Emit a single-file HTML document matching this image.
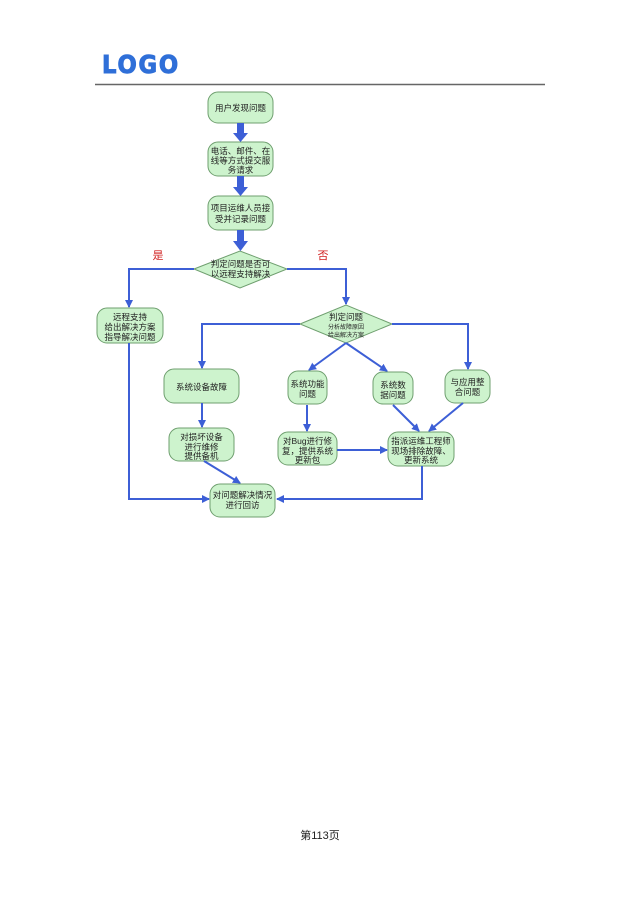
<!DOCTYPE html>
<html><head><meta charset="utf-8"><style>
body{margin:0;background:#fff;}
svg{display:block;}
text{font-family:"Liberation Sans","Noto Sans CJK SC",sans-serif;fill:#222;}
</style></head><body>
<svg width="640" height="906" viewBox="0 0 640 906" xmlns="http://www.w3.org/2000/svg">
<defs>
<marker id="a" markerWidth="8" markerHeight="8" refX="7" refY="4" orient="auto" markerUnits="userSpaceOnUse"><path d="M0,0 L8,4 L0,8 Z" fill="#3d5fd6"/></marker>
</defs>
<text x="102" y="73" style="font-family:'DejaVu Sans',sans-serif;font-weight:bold;font-size:25px;fill:#2f6fd8;stroke:#2f6fd8;stroke-width:1;letter-spacing:2px" textLength="78" lengthAdjust="spacingAndGlyphs">LOGO</text>
<line x1="95" y1="84.5" x2="545" y2="84.5" stroke="#666" stroke-width="1.5"/>

<g fill="#cdf3cd" stroke="#6f9f6f" stroke-width="1">
<rect x="208" y="92" width="65" height="31" rx="10"/>
<rect x="208" y="142" width="65" height="34" rx="10"/>
<rect x="208" y="196" width="65" height="34" rx="10"/>
<polygon points="194,269 240,251 287,269 240,288"/>
<rect x="97" y="308" width="66" height="35" rx="10"/>
<polygon points="300,324 346,305 392,324 346,343"/>
<rect x="164" y="369" width="75" height="34" rx="10"/>
<rect x="288" y="371" width="39" height="33" rx="10"/>
<rect x="373" y="372" width="40" height="32" rx="10"/>
<rect x="445" y="370" width="45" height="33" rx="10"/>
<rect x="169" y="428" width="65" height="33" rx="10"/>
<rect x="278" y="432" width="59" height="33" rx="10"/>
<rect x="388" y="432" width="66" height="34" rx="10"/>
<rect x="210" y="484" width="65" height="33" rx="10"/>
</g>

<g fill="#3d5fd6">
<rect x="237" y="123" width="7" height="11"/><polygon points="233,133 248,133 240.5,142"/>
<rect x="237" y="176" width="7" height="12"/><polygon points="233,187 248,187 240.5,196"/>
<rect x="237" y="230" width="7" height="12"/><polygon points="233,241 248,241 240.5,251"/>
</g>

<g stroke="#3d5fd6" stroke-width="2" fill="none" marker-end="url(#a)">
<polyline points="194,269 129,269 129,307"/>
<polyline points="287,269 346,269 346,304"/>
<polyline points="300,324 202,324 202,368"/>
<polyline points="392,324 468,324 468,369"/>
<line x1="346" y1="343" x2="309" y2="370"/>
<line x1="346" y1="343" x2="387" y2="371"/>
<line x1="202" y1="403" x2="202" y2="427"/>
<line x1="307" y1="405" x2="307" y2="431"/>
<line x1="393" y1="405" x2="419" y2="431"/>
<line x1="463" y1="403" x2="429" y2="431"/>
<line x1="337" y1="450" x2="387" y2="450"/>
<polyline points="129,343 129,499 209,499"/>
<line x1="204" y1="461" x2="240" y2="483"/>
<polyline points="422,466 422,499 277,499"/>
</g>

<text x="158" y="259" font-size="11" style="fill:#d02020" text-anchor="middle">是</text>
<text x="323" y="259" font-size="11" style="fill:#d02020" text-anchor="middle">否</text>

<g font-size="8.5" text-anchor="middle">
<text x="240.5" y="111">用户发现问题</text>
<text x="240.5" y="154">电话、邮件、在</text>
<text x="240.5" y="163.5">线等方式提交服</text>
<text x="240.5" y="173">务请求</text>
<text x="240.5" y="211">项目运维人员接</text>
<text x="240.5" y="222">受并记录问题</text>
<text x="240.5" y="267">判定问题是否可</text>
<text x="240.5" y="277">以远程支持解决</text>
<text x="130" y="320">远程支持</text>
<text x="130" y="330">给出解决方案</text>
<text x="130" y="340">指导解决问题</text>
<text x="346" y="320">判定问题</text>
<text x="346" y="329" font-size="6">分析故障原因</text>
<text x="346" y="337" font-size="6">给出解决方案</text>
<text x="201.5" y="390">系统设备故障</text>
<text x="307.5" y="387">系统功能</text>
<text x="307.5" y="397">问题</text>
<text x="393" y="388">系统数</text>
<text x="393" y="398">据问题</text>
<text x="467.5" y="385">与应用整</text>
<text x="467.5" y="395">合问题</text>
<text x="201.5" y="440">对损坏设备</text>
<text x="201.5" y="450">进行维修</text>
<text x="201.5" y="459">提供备机</text>
<text x="307.5" y="444">对Bug进行修</text>
<text x="307.5" y="454">复，提供系统</text>
<text x="307.5" y="463">更新包</text>
<text x="421" y="444">指派运维工程师</text>
<text x="421" y="454">现场排除故障、</text>
<text x="421" y="463">更新系统</text>
<text x="242.5" y="498">对问题解决情况</text>
<text x="242.5" y="508">进行回访</text>
</g>
<text x="320" y="839" font-size="11" text-anchor="middle">第113页</text>
</svg>
</body></html>
